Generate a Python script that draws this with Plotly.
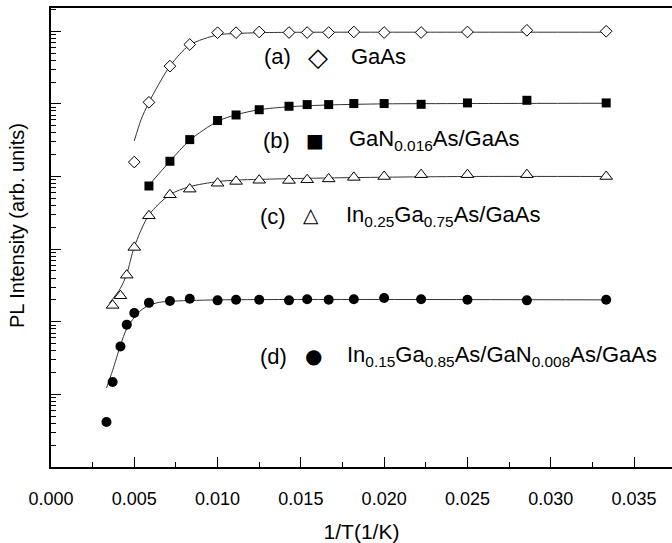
import plotly.graph_objects as go

# ---------------- data (x = 1/T in 1/K, y = PL intensity, arb. units) ----------------
# (a) GaAs
gaas_x = [0.00500, 0.00588, 0.00714, 0.00833, 0.01000, 0.01111, 0.01250, 0.01429,
          0.01538, 0.01667, 0.01818, 0.02000, 0.02222, 0.02500, 0.02857, 0.03333]
gaas_i = [1.58e4, 1.05e5, 3.31e5, 6.56e5, 9.55e5, 9.55e5, 9.77e5, 9.6e5,
          9.6e5, 9.6e5, 9.77e5, 9.6e5, 9.6e5, 9.77e5, 1.03e6, 1.0e6]
gaas_fit_x = [0.00500, 0.00540, 0.00588, 0.00714, 0.00833, 0.01000, 0.01111, 0.01250,
              0.01429, 0.01667, 0.02000, 0.02500, 0.03333]
gaas_fit_i = [3.09e4, 6.0e4, 1.05e5, 3.31e5, 6.46e5, 8.9e5, 9.3e5, 9.55e5,
              9.66e5, 9.7e5, 9.7e5, 9.7e5, 9.7e5]

# (b) GaN0.016As/GaAs
gan_x = [0.00588, 0.00714, 0.00833, 0.01000, 0.01111, 0.01250, 0.01429, 0.01538,
         0.01667, 0.01818, 0.02000, 0.02222, 0.02500, 0.02857, 0.03333]
gan_i = [7.4e3, 1.62e4, 3.22e4, 5.9e4, 7.03e4, 8.3e4, 9.27e4, 9.77e4,
         9.77e4, 1.01e5, 1.01e5, 9.86e4, 1.03e5, 1.12e5, 1.03e5]
gan_fit_x = [0.00588, 0.00714, 0.00833, 0.01000, 0.01111, 0.01250, 0.01429, 0.01667,
             0.02000, 0.02500, 0.03333]
gan_fit_i = [7.6e3, 1.62e4, 3.16e4, 5.75e4, 7.08e4, 8.32e4, 9.12e4, 9.66e4,
             1.0e5, 1.01e5, 1.02e5]

# (c) In0.25Ga0.75As/GaAs
ingaas_x = [0.00370, 0.00417, 0.00455, 0.00500, 0.00588, 0.00714, 0.00833, 0.01000,
            0.01111, 0.01250, 0.01429, 0.01538, 0.01667, 0.01818, 0.02000, 0.02222,
            0.02500, 0.02857, 0.03333]
ingaas_i = [168, 228, 438, 1056, 2880, 5600, 6700, 8080,
            8560, 8880, 8820, 9030, 9260, 9720, 1.0e4, 1.06e4,
            1.06e4, 1.06e4, 1.0e4]
ingaas_fit_x = [0.00350, 0.00417, 0.00455, 0.00500, 0.00588, 0.00714, 0.00833, 0.01000,
                0.01111, 0.01250, 0.01429, 0.01667, 0.02000, 0.02500, 0.03333]
ingaas_fit_i = [180, 290, 457, 1072, 2951, 5623, 7244, 8511,
                8913, 9120, 9333, 9550, 9772, 1.0e4, 1.0e4]

# (d) In0.15Ga0.85As/GaN0.008As/GaAs
dot_x = [0.00333, 0.00370, 0.00417, 0.00455, 0.00500, 0.00588, 0.00714, 0.00833,
         0.01000, 0.01111, 0.01250, 0.01429, 0.01538, 0.01667, 0.01818, 0.02000,
         0.02222, 0.02500, 0.02857, 0.03333]
dot_i = [4.16, 14.8, 45.8, 91.2, 132, 182, 193, 207,
         197, 201, 201, 197, 204, 201, 204, 212,
         204, 201, 197, 201]
dot_fit_x = [0.00333, 0.00370, 0.00417, 0.00455, 0.00500, 0.00540, 0.00588, 0.00650,
             0.00714, 0.01000, 0.03333]
dot_fit_i = [12.2, 21.4, 47.3, 81.1, 115, 144, 168, 185, 191, 200, 200]

x_tick_vals = [0.000, 0.005, 0.010, 0.015, 0.020, 0.025, 0.030, 0.035]
x_tick_text = ["0.000", "0.005", "0.010", "0.015", "0.020", "0.025", "0.030", "0.035"]

# ---------------- figure ----------------
FONT = "Liberation Sans, Arial, sans-serif"
LINE_COLOR = "#333333"

fig = go.Figure()

fits = [(gaas_fit_x, gaas_fit_i), (gan_fit_x, gan_fit_i),
        (ingaas_fit_x, ingaas_fit_i), (dot_fit_x, dot_fit_i)]
for fx, fi in fits:
    fig.add_trace(go.Scatter(x=fx, y=fi, mode="lines",
                             line=dict(color=LINE_COLOR, width=1, shape="spline", smoothing=0.8),
                             showlegend=False, hoverinfo="skip"))

fig.add_trace(go.Scatter(x=gaas_x, y=gaas_i, mode="markers", name="GaAs",
                         marker=dict(symbol="diamond", size=9, color="white",
                                     line=dict(color="black", width=1))))
fig.add_trace(go.Scatter(x=gan_x, y=gan_i, mode="markers", name="GaN0.016As/GaAs",
                         marker=dict(symbol="square", size=9, color="black",
                                     line=dict(color="black", width=0))))
fig.add_trace(go.Scatter(x=ingaas_x, y=ingaas_i, mode="markers", name="In0.25Ga0.75As/GaAs",
                         marker=dict(symbol="triangle-up", size=11, color="white",
                                     line=dict(color="black", width=1))))
fig.add_trace(go.Scatter(x=dot_x, y=dot_i, mode="markers", name="In0.15Ga0.85As/GaN0.008As/GaAs",
                         marker=dict(symbol="circle", size=10, color="black",
                                     line=dict(color="black", width=0))))

L, R, T, B = 51, 0, 8, 76
W, H = 672, 543
pw, ph = W - L - R, H - T - B

def px(xp):
    return (xp - L) / pw

def py(yp):
    return (H - B - yp) / ph

labels = [
    ("(a)", 277, 57, "\u25C7", 318, 57, 26, "GaAs", 349),
    ("(b)", 276, 140, "\u25A0", 315, 140, 19, "GaN<sub>0.016</sub>As/GaAs", 347),
    ("(c)", 273, 216, "\u25B3", 311, 215, 20, "In<sub>0.25</sub>Ga<sub>0.75</sub>As/GaAs", 344),
    ("(d)", 273, 356, "\u25CF", 313, 356, 20, "In<sub>0.15</sub>Ga<sub>0.85</sub>As/GaN<sub>0.008</sub>As/GaAs", 345),
]
ann = []
for tag, tx, ty, sym, sx, sy, ss, txt, lx in labels:
    ann.append(dict(text=tag, x=px(tx), y=py(ty), xref="paper", yref="paper",
                    xanchor="center", yanchor="middle", showarrow=False,
                    font=dict(family=FONT, size=22, color="black")))
    ann.append(dict(text=sym, x=px(sx), y=py(sy), xref="paper", yref="paper",
                    xanchor="center", yanchor="middle", showarrow=False,
                    font=dict(family="DejaVu Sans", size=ss, color="black")))
    ann.append(dict(text=txt, x=px(lx), y=py(ty), xref="paper", yref="paper",
                    xanchor="left", yanchor="middle", showarrow=False,
                    font=dict(family=FONT, size=22, color="black")))

# y-axis title (placed as a rotated annotation to match its position)
ann.append(dict(text="PL Intensity (arb. units)", textangle=-90,
                x=px(17), y=py(226), xref="paper", yref="paper",
                xanchor="center", yanchor="middle", showarrow=False,
                font=dict(family=FONT, size=20, color="black")))

fig.update_layout(
    width=W, height=H,
    margin=dict(l=L, r=R, t=T, b=B, pad=0, autoexpand=False),
    paper_bgcolor="white", plot_bgcolor="white",
    showlegend=False,
    font=dict(family=FONT, color="black"),
    annotations=ann,
    xaxis=dict(
        automargin=False,
        range=[0, pw / 16657.0],
        tickvals=x_tick_vals, ticktext=x_tick_text,
        ticks="inside", ticklen=10, tickwidth=1, tickcolor="black",
        minor=dict(ticks="inside", ticklen=5, tickwidth=1, tickcolor="black", dtick=0.0025, showgrid=False),
        showline=True, linecolor="black", linewidth=2, mirror=True,
        showgrid=False, zeroline=False,
        tickfont=dict(family=FONT, size=18, color="black"),
        ticklabelstandoff=14,
        title=dict(text="1/T(1/K)", font=dict(family=FONT, size=21, color="black"), standoff=17),
    ),
    yaxis=dict(
        automargin=False,
        type="log", range=[0, 6.32], dtick=1,
        showticklabels=False,
        ticks="inside", ticklen=10, tickwidth=1, tickcolor="black",
        minor=dict(ticks="inside", ticklen=5, tickwidth=1, tickcolor="black", dtick="D1", showgrid=False),
        showline=True, linecolor="black", linewidth=2, mirror=False,
        showgrid=False, zeroline=False,
    ),
)

fig.write_html("out.html", config={"displayModeBar": False},
               post_script="document.body.style.margin='0';document.body.style.padding='0';")
